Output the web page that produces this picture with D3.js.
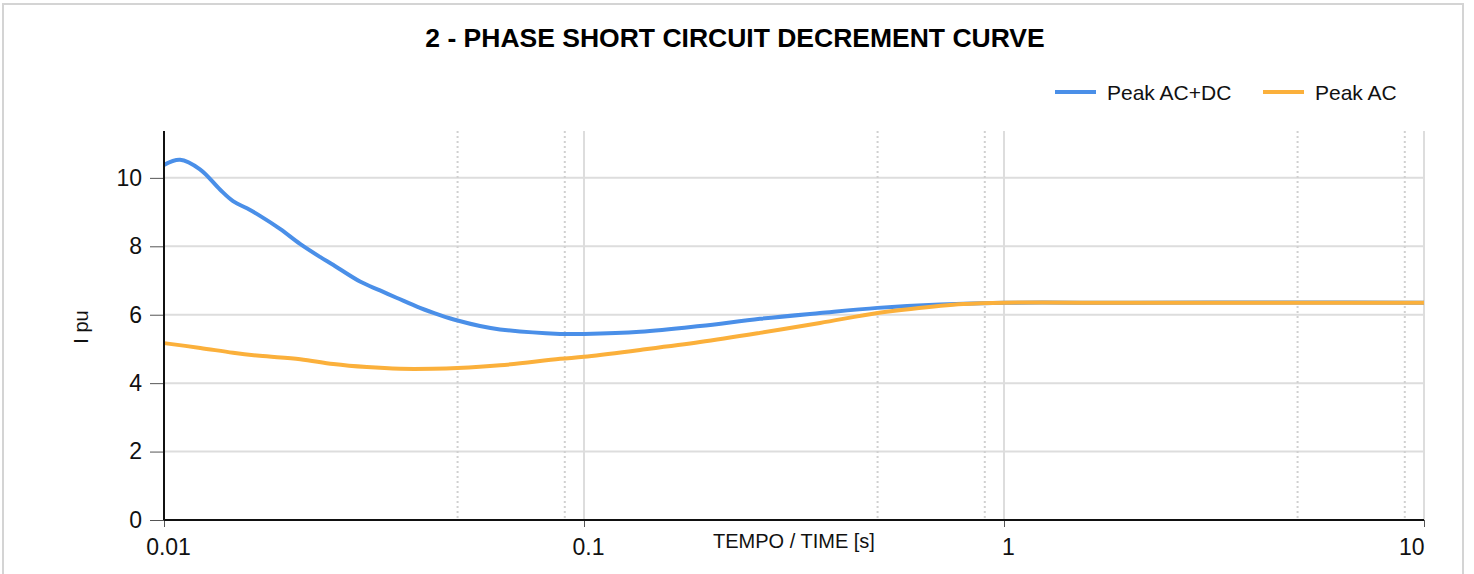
<!DOCTYPE html>
<html>
<head>
<meta charset="utf-8">
<script src="https://cdn.jsdelivr.net/npm/d3@7"></script>
<style>
  body { margin: 0; background: #fff; }
  svg { font-family: "Liberation Sans", Arial, sans-serif; display: block; }
</style>
</head>
<body>
<div id="my_dataviz"></div>
<script>
// dati
var timesAcDc = [0.01, 0.01092, 0.01218, 0.01359, 0.0146, 0.01576, 0.01693, 0.01889,
  0.02108, 0.02352, 0.02526, 0.02929, 0.03268, 0.03588, 0.04069, 0.04541, 0.05, 0.05654, 0.0631,
  0.0877, 0.1, 0.136, 0.189, 0.2624, 0.3647, 0.5, 0.7045, 1, 2, 5, 10];
var peakAcDc = [10.38, 10.53, 10.25, 9.66, 9.32, 9.11, 8.89, 8.51,
  8.07, 7.69, 7.46, 6.97, 6.71, 6.49, 6.20, 5.99, 5.83, 5.67, 5.57,
  5.44, 5.44, 5.50, 5.67, 5.88, 6.05, 6.20, 6.30, 6.35, 6.35, 6.36, 6.35];

var timesAc = [0.01, 0.0122, 0.0146, 0.0169, 0.0211, 0.0253, 0.0304, 0.0365, 0.0437, 0.05, 0.0631,
  0.0877, 0.1, 0.136, 0.189, 0.2624, 0.3647, 0.5, 0.6, 0.8, 1, 2, 5, 10];
var peakAc = [5.17, 5.03, 4.89, 4.80, 4.70, 4.56, 4.47, 4.42, 4.42, 4.44, 4.52,
  4.71, 4.77, 4.97, 5.20, 5.47, 5.76, 6.05, 6.17, 6.31, 6.35, 6.35, 6.35, 6.35];

var xMajorTicks = [0.01, 0.1, 1, 10];
var xMinorTicks = [0.05, 0.09, 0.5, 0.9, 5, 9];
var yTicks = [0, 2, 4, 6, 8, 10];
var seriesNames = ["Peak AC+DC", "Peak AC"];
var seriesColors = ["#4a8fe8", "#fbb03b"];

var dimension = { width: 1474, height: 574 };
var margin = { top: 131, right: 50, bottom: 54, left: 164 };
var width = dimension.width - margin.left - margin.right,   // 1260
    height = dimension.height - margin.top - margin.bottom;  // 389

var svgRoot = d3.select("#my_dataviz")
  .append("svg")
  .attr("width", dimension.width)
  .attr("height", dimension.height);

// cornice
svgRoot.append("rect")
  .attr("x", 3).attr("y", 4)
  .attr("width", 1460).attr("height", 600)
  .attr("fill", "none")
  .attr("stroke", "#d4d4d4")
  .attr("stroke-width", 2);

// titolo
svgRoot.append("text")
  .attr("x", 735).attr("y", 47)
  .attr("text-anchor", "middle")
  .style("font-weight", "bold")
  .style("font-size", "26.5px")
  .text("2 - PHASE SHORT CIRCUIT DECREMENT CURVE");

var svg = svgRoot.append("g")
  .attr("transform", "translate(" + margin.left + "," + margin.top + ")");

var x = d3.scaleLog().domain([0.01, 10]).range([0, width]);
var y = d3.scaleLinear().domain([0, 11.37]).range([height, 0]);

// griglia orizzontale
svg.selectAll(".hgrid")
  .data(yTicks.filter(function(d) { return d > 0; }))
  .enter().append("line")
  .attr("x1", 0).attr("x2", width)
  .attr("y1", function(d) { return y(d); })
  .attr("y2", function(d) { return y(d); })
  .attr("stroke", "#dddddd")
  .attr("stroke-width", 2);

// griglia verticale minore (punteggiata)
svg.selectAll(".vminor")
  .data(xMinorTicks)
  .enter().append("line")
  .attr("x1", function(d) { return x(d); })
  .attr("x2", function(d) { return x(d); })
  .attr("y1", 0).attr("y2", height)
  .attr("stroke", "#d0d0d0")
  .attr("stroke-width", 2)
  .attr("stroke-dasharray", "2,3");

// griglia verticale principale
svg.selectAll(".vmajor")
  .data(xMajorTicks.slice(1))
  .enter().append("line")
  .attr("x1", function(d) { return x(d); })
  .attr("x2", function(d) { return x(d); })
  .attr("y1", 0).attr("y2", height)
  .attr("stroke", "#dddddd")
  .attr("stroke-width", 2);

// curve
var line = function(xs) {
  return d3.line()
    .x(function(d, i) { return x(xs[i]); })
    .y(function(d) { return y(d); })
    .curve(d3.curveCatmullRom.alpha(0.5));
};

svg.append("path")
  .datum(peakAcDc)
  .attr("d", line(timesAcDc))
  .attr("fill", "none")
  .attr("stroke", seriesColors[0])
  .attr("stroke-width", 4);

svg.append("path")
  .datum(peakAc)
  .attr("d", line(timesAc))
  .attr("fill", "none")
  .attr("stroke", seriesColors[1])
  .attr("stroke-width", 4);

// asse Y
var yAxis = svg.append("g")
  .call(d3.axisLeft(y).tickValues(yTicks).tickSize(14).tickPadding(8).tickFormat(d3.format("d")));
yAxis.select(".domain").remove();
yAxis.selectAll(".tick line").attr("stroke", "#555").attr("stroke-width", 1);
yAxis.selectAll("text").style("font-size", "23px").attr("fill", "#111");

// asse X
var xAxis = svg.append("g")
  .attr("transform", "translate(0," + height + ")")
  .call(d3.axisBottom(x).tickValues(xMajorTicks).tickSize(7).tickPadding(6)
    .tickFormat(function(d) { return d3.format("~g")(d); }));
xAxis.select(".domain").remove();
xAxis.selectAll(".tick line").attr("stroke", "#555").attr("stroke-width", 1);
xAxis.selectAll("text").style("font-size", "23px").attr("fill", "#111")
  .attr("dy", "0.95em")
  .attr("text-anchor", function(d) { return d === 10 ? "end" : "middle"; })
  .attr("dx", function(d) { return d === 10 ? 0 : 4; });

// linee degli assi
svg.append("line")
  .attr("x1", 0).attr("x2", 0).attr("y1", 0).attr("y2", height)
  .attr("stroke", "#111").attr("stroke-width", 2);
svg.append("line")
  .attr("x1", 0).attr("x2", width).attr("y1", height).attr("y2", height)
  .attr("stroke", "#111").attr("stroke-width", 2);

// titoli assi
svgRoot.append("text")
  .attr("x", 794).attr("y", 548)
  .attr("text-anchor", "middle")
  .style("font-size", "20px")
  .attr("fill", "#111")
  .text("TEMPO / TIME [s]");

svgRoot.append("text")
  .attr("transform", "translate(88,327)rotate(-90)")
  .attr("text-anchor", "middle")
  .style("font-size", "20px")
  .attr("fill", "#111")
  .text("I pu");

// legenda
var legendX = [1055, 1263];
var legend = svgRoot.selectAll(".legend")
  .data(seriesNames)
  .enter().append("g")
  .attr("transform", function(d, i) { return "translate(" + legendX[i] + ",92)"; });
legend.append("line")
  .attr("x1", 0).attr("x2", 41).attr("y1", 0).attr("y2", 0)
  .attr("stroke", function(d, i) { return seriesColors[i]; })
  .attr("stroke-width", 4);
legend.append("text")
  .attr("x", 52).attr("y", 7.5)
  .style("font-size", "21px")
  .attr("fill", "#111")
  .text(function(d) { return d; });
</script>
</body>
</html>
